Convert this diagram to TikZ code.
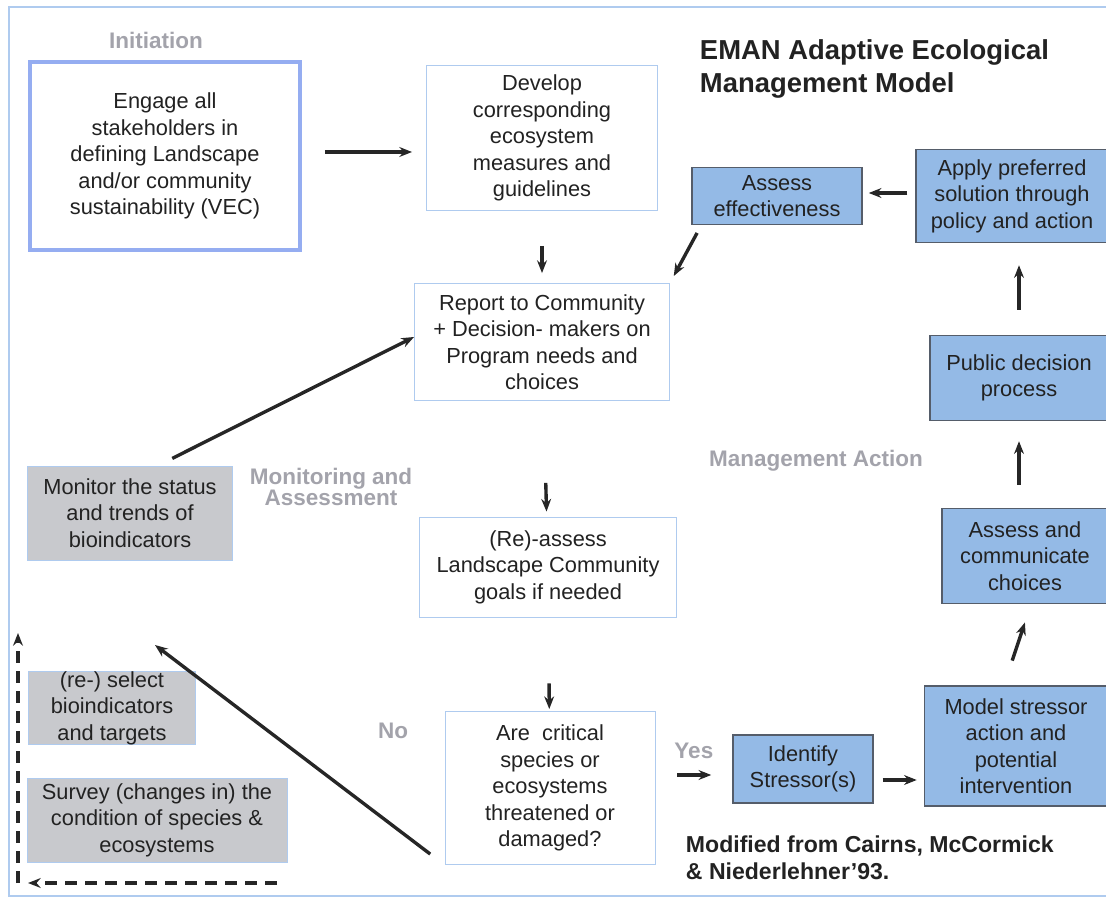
\documentclass[tikz,border=0pt]{standalone}
\usepackage{fontspec}
\setmainfont{Liberation Sans}
\usetikzlibrary{arrows.meta}
\definecolor{frameblue}{HTML}{AFCBEF}
\definecolor{boxblue}{HTML}{94BAE6}
\definecolor{boxedge}{HTML}{555D6A}
\definecolor{greyfill}{HTML}{C8C9CD}
\definecolor{labelgrey}{HTML}{A3A3AB}
\definecolor{inkgrey}{HTML}{222222}
\tikzset{
  box/.style={draw=frameblue, line width=0.6pt, fill=white, align=center, inner sep=0pt,
    font=\fontsize{15.5}{18.8}\selectfont, text=inkgrey},
  thickbox/.style={box, line width=2.6pt, draw=frameblue!85!blue},
  bluebox/.style={box, fill=boxblue, draw=boxedge, line width=1pt},
  greybox/.style={box, fill=greyfill},
  stage/.style={font=\bfseries\fontsize{16}{14.5}\selectfont, text=labelgrey, align=center},
  flow/.style={-{Stealth[length=9pt,width=7pt]}, line width=2.4pt, draw=black!85},
}
\begin{document}
\begin{tikzpicture}[x=0.025cm, y=-0.025cm]
  \clip (0,0) rectangle (1106,898);
  \draw[frameblue, line width=1.5pt] (9,7) rectangle (1120,896);
  \draw
    (165,156) node[thickbox, minimum width=6.75cm, minimum height=4.7cm] (engage)
      {Engage all\\stakeholders in\\defining Landscape\\and/or community\\sustainability (VEC)}
    (542,138) node[box, minimum width=5.775cm, minimum height=3.625cm] (develop)
      {Develop\\corresponding\\ecosystem\\measures and\\guidelines}
    (542,342) node[box, minimum width=6.375cm, minimum height=2.925cm] (report)
      {Report to Community\\+ Decision- makers on\\Program needs and\\choices}
    (548,567) node[box, minimum width=6.425cm, minimum height=2.5cm] (reassess)
      {(Re)-assess\\Landscape Community\\goals if needed}
    (550,788) node[box, minimum width=5.25cm, minimum height=3.825cm] (critical)
      {Are\ \ critical\\species or\\ecosystems\\threatened or\\damaged?}
    (777,196) node[bluebox, minimum width=4.25cm, minimum height=1.425cm] (assesseff)
      {Assess\\effectiveness}
    (1012,196) node[bluebox, minimum width=4.8cm, minimum height=2.325cm] (apply)
      {Apply preferred\\solution through\\policy and action}
    (1019,378) node[bluebox, minimum width=4.45cm, minimum height=2.125cm] (public)
      {Public decision\\process}
    (1025,556) node[bluebox, minimum width=4.15cm, minimum height=2.375cm] (assesscomm)
      {Assess and\\communicate\\choices}
    (1016,746) node[bluebox, minimum width=4.575cm, minimum height=3cm] (model)
      {Model stressor\\action and\\potential\\intervention}
    (803,769) node[bluebox, minimum width=3.5cm, minimum height=1.7cm] (identify)
      {Identify\\Stressor(s)}
    (130,513) node[greybox, minimum width=5.125cm, minimum height=2.35cm] (monitor)
      {Monitor the status\\and trends of\\bioindicators}
    (112,708) node[greybox, minimum width=4.175cm, minimum height=1.675cm] (select)
      {(re-) select\\bioindicators\\and targets}
    (157,820) node[greybox, minimum width=6.5cm, minimum height=2.1cm] (survey)
      {Survey (changes in) the\\condition of species \&\\ecosystems};
  \draw
    (156,40) node[stage] (initiation) {Initiation}
    (331,487) node[stage] (monitoring) {Monitoring and\\Assessment}
    (816,461) node[stage] (management) {Management Action}
    (393,731) node[stage] (no) {No}
    (695,69) node[anchor=west, align=left, text=inkgrey,
      font=\bfseries\fontsize{19.5}{23.4}\selectfont] (title)
      {EMAN Adaptive Ecological\\Management Model}
    (681,858) node[anchor=west, align=left, text=inkgrey,
      font=\bfseries\fontsize{16.4}{19.2}\selectfont] (source)
      {Modified from Cairns, McCormick\\\& Niederlehner'93.};
  \coordinate (noend) at (155,645);
  \coordinate (dashstart) at (277,883);
  \coordinate (dashcorner) at (18,883);
  \coordinate (dashend) at (18,633);
  \begin{scope}[flow]
    \draw[shorten <=0.575cm, shorten >=0.35cm] ([yshift=0.1cm]engage.east) -- ([yshift=0.1cm]engage.east -| develop.west);
    \draw[shorten <=0.875cm, shorten >=0.25cm] (develop) -- (report);
    \draw[shorten <=0.22cm, shorten >=0.2cm] ([xshift=0.25cm]assesseff.south west) -- (report.north east);
    \draw[shorten <=0.2cm, shorten >=0.15cm] ([yshift=0.075cm]apply.west) -- ([yshift=0.075cm]assesseff.east);
    \draw[shorten <=0.625cm, shorten >=0.55cm] (public.north) -- (public.north |- apply.south);
    \draw[shorten <=0.575cm, shorten >=0.5cm] (public.south |- assesscomm.north) -- (public.south);
    \draw[shorten <=0.65cm, shorten >=0.48cm] ([xshift=-0.3cm]model.north) -- ([xshift=0.15cm]assesscomm.south);
    \draw[shorten <=0.225cm, shorten >=0.175cm] ([yshift=-0.275cm]identify.east) -- ([yshift=-0.275cm]identify.east -| model.west);
    \draw[shorten <=0.55cm, shorten >=0.525cm] ([yshift=-0.15cm]critical.east |- identify.west) -- ([yshift=-0.15cm]identify.west)
      node[midway, above=0.25cm, stage] (yes) {Yes};
    \draw[shorten <=2.05cm, shorten >=0.125cm] (report) -- (reassess);
    \draw[shorten <=1.65cm, shorten >=0.05cm] (reassess) -- (critical);
    \draw[shorten <=0.4cm] ([xshift=0.7cm]monitor.north) -- ([yshift=0.125cm]report.west);
    \draw[shorten <=0.45cm] (critical.south west) -- (noend);
    \draw[dash pattern=on 0.3cm off 0.2cm, line width=2.6pt, shorten >=0.25cm] (dashstart) -- (dashcorner);
    \draw[dash pattern=on 0.3cm off 0.2cm, line width=2.6pt] (dashcorner) -- (dashend);
  \end{scope}
\end{tikzpicture}
\end{document}
